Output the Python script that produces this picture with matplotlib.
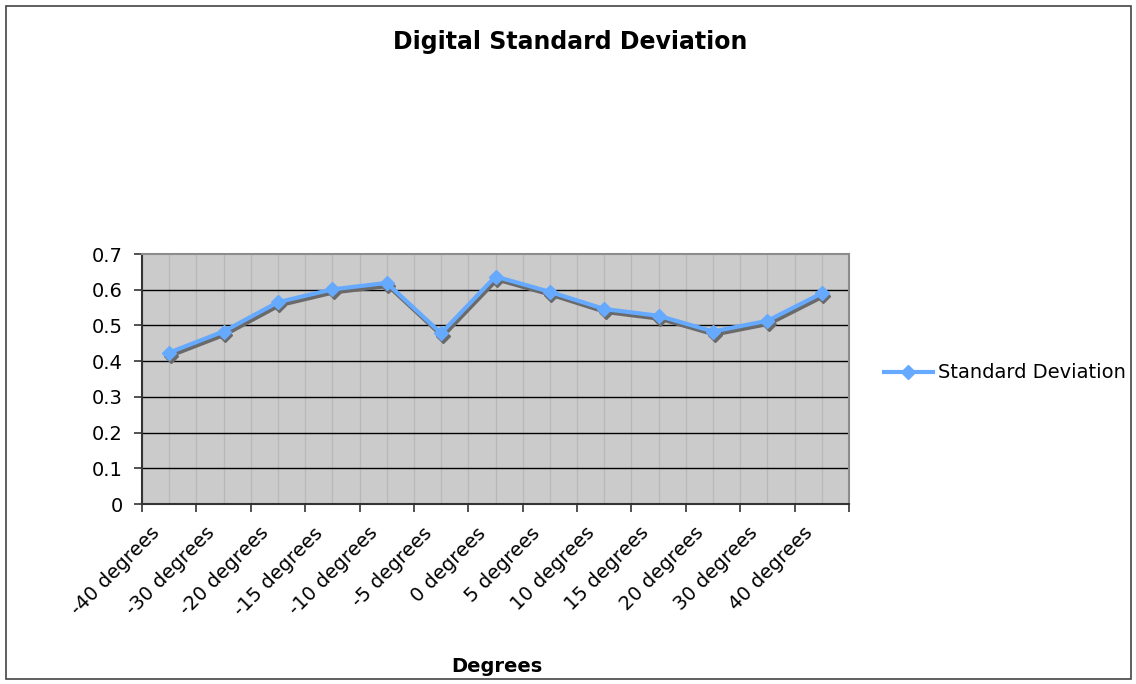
import matplotlib
matplotlib.use("Agg")
import matplotlib.pyplot as plt
from matplotlib.patches import Rectangle
from matplotlib.lines import Line2D
from matplotlib.transforms import offset_copy, ScaledTranslation

categories = ["-40 degrees", "-30 degrees", "-20 degrees", "-15 degrees",
              "-10 degrees", "-5 degrees", "0 degrees", "5 degrees",
              "10 degrees", "15 degrees", "20 degrees", "30 degrees",
              "40 degrees"]
std_dev = [0.424, 0.483, 0.565, 0.601, 0.619, 0.478, 0.637,
           0.594, 0.546, 0.527, 0.483, 0.513, 0.590]
y_ticks = [0, 0.1, 0.2, 0.3, 0.4, 0.5, 0.6, 0.7]
y_labels = ["0", "0.1", "0.2", "0.3", "0.4", "0.5", "0.6", "0.7"]

plt.rcParams['font.family'] = ['DejaVu Sans']

blue = "#66aaff"

fig = plt.figure(figsize=(11.36, 6.84), dpi=100)
ax = fig.add_axes([142 / 1136, 1 - 504 / 684, (849 - 142) / 1136, (504 - 254) / 684])
ax.set_facecolor("#cbcbcb")

x = list(range(len(categories)))

# light vertical grid every half category, black horizontal grid
for i in range(len(categories) * 2 + 1):
    ax.axvline(-0.5 + i * 0.5, color="#b8b8b8", lw=0.9, zorder=1)
for yv in y_ticks[1:-1]:
    ax.axhline(yv, color="black", lw=1.0, zorder=1)

# drop shadow, then the series on top
shadow = offset_copy(ax.transData, fig=fig, x=1.5, y=-3, units="dots")
ax.plot(x, std_dev, color="#6a6a6a", lw=3.0, marker="D", markersize=7.5,
        markeredgecolor="#6a6a6a", transform=shadow, zorder=2)
ax.plot(x, std_dev, color=blue, lw=3.0, marker="D", markersize=7.5,
        markeredgecolor=blue, zorder=3)

ax.set_xlim(-0.5, len(categories) - 0.5)
ax.set_ylim(0, 0.7)
ax.set_yticks(y_ticks)
ax.set_yticklabels(y_labels, fontsize=14)
ax.set_xticks([i - 0.5 for i in range(len(categories) + 1)])
ax.set_xticklabels([])
ax.set_xticks(x, minor=True)
ax.set_xticklabels(categories, minor=True, rotation=45, ha="right",
                   rotation_mode="anchor", fontsize=14)
ax.tick_params(axis="x", which="minor", length=0, pad=14)
ax.tick_params(axis="x", which="major", length=6, width=1.2, color="#333333")
ax.tick_params(axis="y", length=6, width=1.2, color="#333333", pad=8)

# nudge the slanted labels left so they end just before their category
nudge = ScaledTranslation(-19 / 100, 0, fig.dpi_scale_trans)
for lbl in ax.get_xticklabels(minor=True):
    lbl.set_transform(lbl.get_transform() + nudge)

for side in ["left", "bottom"]:
    ax.spines[side].set_color("#333333")
    ax.spines[side].set_linewidth(1.5)
for side in ["top", "right"]:
    ax.spines[side].set_color("#8c8c8c")
    ax.spines[side].set_linewidth(1.5)

fig.text(570 / 1136, 1 - 42 / 684, "Digital Standard Deviation", ha="center",
         va="center", fontsize=17, fontweight="bold")
fig.text(497 / 1136, 1 - 667 / 684, "Degrees", ha="center", va="center",
         fontsize=14, fontweight="bold")

handle = Line2D([], [], color=blue, lw=3.0, marker="D", markersize=7.5,
                markeredgecolor=blue)
fig.legend(handles=[handle], labels=["Standard Deviation"], loc="center left",
           bbox_to_anchor=(884 / 1136, 1 - 373 / 684), frameon=False, fontsize=14,
           handlelength=2.5, handletextpad=0.3, borderaxespad=0, borderpad=0)

fig.patches.append(Rectangle((6 / 1136, 5 / 684), (1131 - 6) / 1136, (678 - 5) / 684,
                             transform=fig.transFigure, fill=False, edgecolor="#444444",
                             lw=1.2))

fig.savefig("out.png", dpi=100)
